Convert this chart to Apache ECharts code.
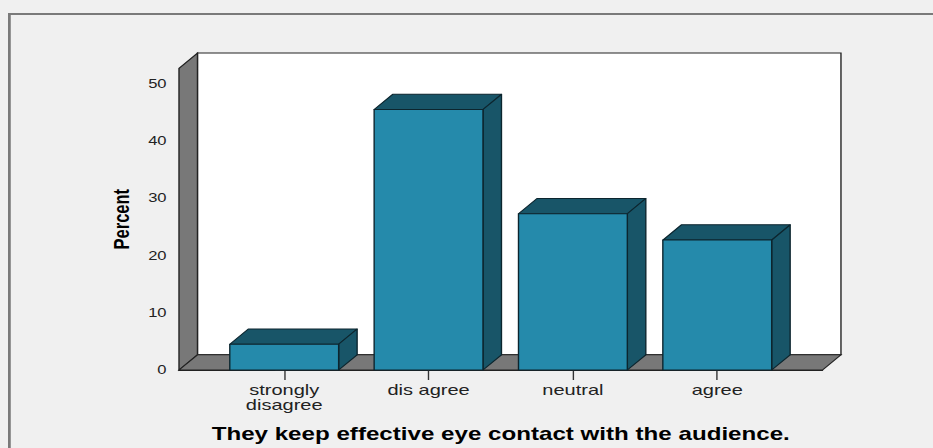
<!DOCTYPE html>
<html>
<head>
<meta charset="utf-8">
<title>They keep effective eye contact with the audience.</title>
<script src="https://cdn.jsdelivr.net/npm/echarts@6/dist/echarts.min.js"></script>
<style>
  html, body { margin: 0; padding: 0; background: #f0f0f0; overflow: hidden; }
  /* the chart is laid out narrow and widened horizontally, giving the wide lettering */
  #chart { position: absolute; left: 0; top: 0; width: 676px; height: 448px;
           transform: scaleX(1.38); transform-origin: 0 0; }
</style>
</head>
<body>
<div id="chart"></div>
<script>
// categories and percentages
const categories = ['strongly\ndisagree', 'dis agree', 'neutral', 'agree'];
const percents = [4.5, 45.5, 27.3, 22.7];
const yTickValues = [0, 10, 20, 30, 40, 50];
const catPositions = [0, 1, 2, 3];

// axis extents
const X_MIN = -0.729, X_MAX = 3.729;
const Y_MAX = 52.7;
const BAR_HALF = 0.377;

// oblique depth of the 3D box, in pixels
const DX = 13.4, DY = -15.2;

const FRONT = '#258aab', SHADE = '#185568', EDGE = '#0c252e';
const WALL = '#787878', WALL_EDGE = '#222';
const FONT = '"Liberation Sans", Arial, sans-serif';

const chart = echarts.init(document.getElementById('chart'), null, { renderer: 'svg' });

function renderWalls(params, api) {
  const fl = api.coord([X_MIN, 0]);
  const fr = api.coord([X_MAX, 0]);
  const tl = api.coord([X_MIN, Y_MAX]);
  const xl = fl[0], xr = fr[0], yb = fl[1], yt = tl[1];
  return {
    type: 'group',
    children: [
      { type: 'rect', shape: { x: xl + DX, y: yt + DY, width: xr - xl, height: yb - yt },
        style: { fill: '#ffffff', stroke: WALL_EDGE, lineWidth: 1 } },
      { type: 'polygon', shape: { points: [[xl, yt], [xl + DX, yt + DY], [xl + DX, yb + DY], [xl, yb]] },
        style: { fill: WALL, stroke: WALL_EDGE, lineWidth: 1 } },
      { type: 'polygon', shape: { points: [[xl, yb], [xl + DX, yb + DY], [xr + DX, yb + DY], [xr, yb]] },
        style: { fill: WALL, stroke: WALL_EDGE, lineWidth: 1 } }
    ]
  };
}

function renderBar(params, api) {
  const i = api.value(0), v = api.value(1);
  const p0 = api.coord([i - BAR_HALF, 0]);
  const p1 = api.coord([i + BAR_HALF, v]);
  const x0 = p0[0], x1 = p1[0], yb = p0[1], yt = p1[1];
  const edge = { stroke: EDGE, lineWidth: 1, lineJoin: 'round' };
  return {
    type: 'group',
    children: [
      { type: 'polygon', shape: { points: [[x0, yt], [x0 + DX, yt + DY], [x1 + DX, yt + DY], [x1, yt]] },
        style: Object.assign({ fill: SHADE }, edge) },
      { type: 'polygon', shape: { points: [[x1, yt], [x1 + DX, yt + DY], [x1 + DX, yb + DY], [x1, yb]] },
        style: Object.assign({ fill: SHADE }, edge) },
      { type: 'rect', shape: { x: x0, y: yt, width: x1 - x0, height: yb - yt },
        style: Object.assign({ fill: FRONT }, edge) }
    ]
  };
}

chart.setOption({
  backgroundColor: '#f0f0f0',
  animation: false,
  graphic: [{
    type: 'rect', left: 5.8, top: 13, z: -10,
    shape: { width: 700, height: 460 },
    style: { fill: '#f0f0f0', stroke: '#7a7a7a', lineWidth: 2 }
  }],
  grid: { left: 129.7, right: 80, top: 68.3, bottom: 77.7 },
  xAxis: {
    type: 'value', min: X_MIN, max: X_MAX,
    name: 'They keep effective eye contact with the audience.',
    nameLocation: 'middle', nameGap: 55,
    nameTextStyle: { fontFamily: FONT, fontSize: 17.5, fontWeight: 'bold', color: '#000' },
    splitLine: { show: false },
    axisLine: { show: true, onZero: false, lineStyle: { color: '#222', width: 1 } },
    axisTick: { show: true, length: 10, customValues: catPositions, lineStyle: { color: '#333' } },
    axisLabel: {
      customValues: catPositions, margin: 13,
      formatter: v => categories[Math.round(v)],
      fontFamily: FONT, fontSize: 14.5, lineHeight: 15, color: '#222'
    }
  },
  yAxis: {
    type: 'value', min: 0, max: Y_MAX,
    name: 'Percent', nameLocation: 'middle', nameGap: 29, nameRotate: 90,
    nameTextStyle: { fontFamily: FONT, fontSize: 16.5, fontWeight: 'bold', color: '#000' },
    splitLine: { show: false },
    axisLine: { show: true, lineStyle: { color: '#222', width: 1 } },
    axisTick: { show: true, length: 6.5, customValues: yTickValues, lineStyle: { color: '#333' } },
    axisLabel: {
      customValues: yTickValues, margin: 9,
      fontFamily: FONT, fontSize: 12, color: '#222'
    }
  },
  series: [
    { type: 'custom', renderItem: renderWalls, data: [[0, 0]], z: 1, silent: true },
    { type: 'custom', renderItem: renderBar, data: percents.map((v, i) => [i, v]), z: 2 }
  ]
});
</script>
</body>
</html>
